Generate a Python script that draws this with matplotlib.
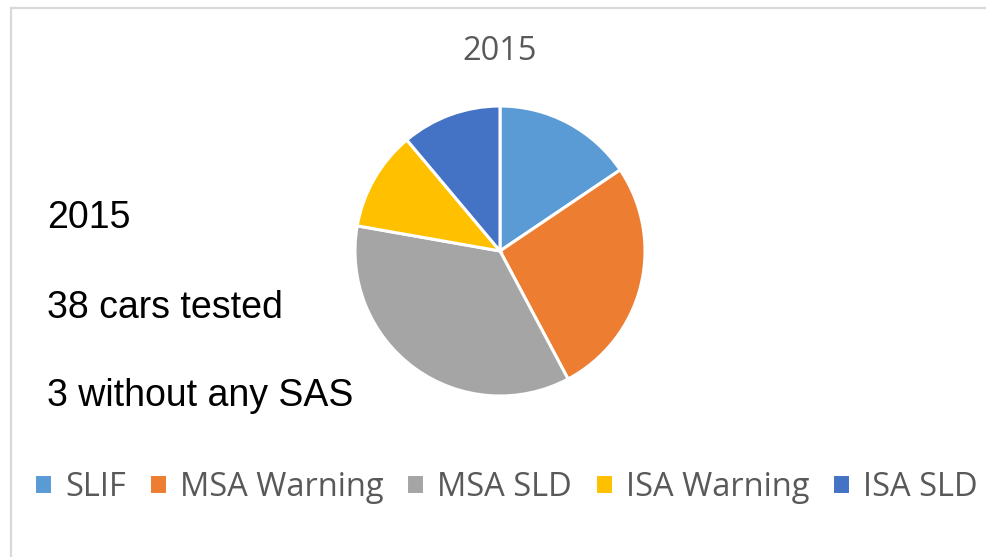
import matplotlib.pyplot as plt
from matplotlib.patches import Rectangle

labels = ["SLIF", "MSA Warning", "MSA SLD", "ISA Warning", "ISA SLD"]
counts = [7, 12, 16, 5, 5]
colors = ["#5B9BD5", "#ED7D31", "#A5A5A5", "#FFC000", "#4472C4"]
notes = ["2015", "38 cars tested", "3 without any SAS"]

W, H = 986, 557
fig = plt.figure(figsize=(W / 100, H / 100), dpi=100)

# light grey chart border (right/bottom run off the picture)
fig.patches.append(Rectangle((11 / W, -0.05), 1.1, 1 - 8 / H + 0.05, transform=fig.transFigure,
                             fill=False, edgecolor="#d9d9d9", linewidth=1.6))

# pie, centre ~ (500, 251) px, radius ~ 145 px
cx, cy, r = 500, 251, 145
ax = fig.add_axes([(cx - r) / W, (H - cy - r) / H, 2 * r / W, 2 * r / H])
wedges, _ = ax.pie(counts, colors=colors, startangle=90, counterclock=False,
                   wedgeprops=dict(edgecolor="white", linewidth=2.2))
ax.set_xlim(-1, 1)
ax.set_ylim(-1, 1)
ax.set_aspect("equal")
ax.axis("off")

fig.text(500 / W, 1 - 51 / H, "2015", ha="center", va="center", fontsize=23.5,
         color="#595959", family="Open Sans")

for i, t in enumerate(notes):
    fig.text(47 / W, 1 - [228, 318, 406][i] / H, t, ha="left", va="baseline",
             fontsize=27, color="black", family="Liberation Sans")

leg = fig.legend(wedges, labels, loc="center", bbox_to_anchor=(506 / W, 1 - 487 / H), ncol=5,
                 frameon=False, handlelength=0.55, handleheight=0.55, handletextpad=0.4,
                 columnspacing=0.7, prop=dict(family="Open Sans", size=23.5))
for t in leg.get_texts():
    t.set_color("#595959")

fig.savefig("out.png", dpi=100)
